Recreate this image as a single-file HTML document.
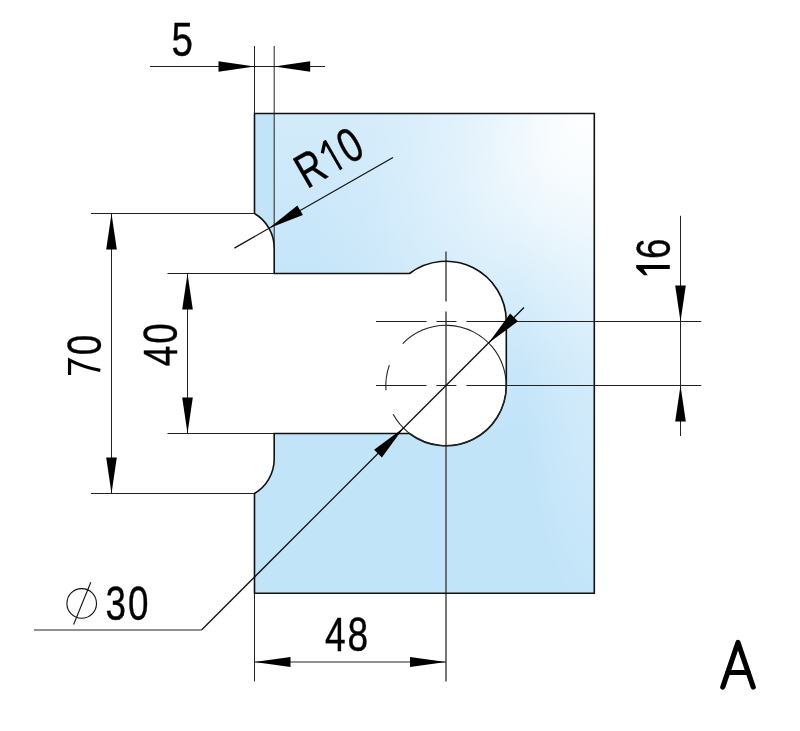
<!DOCTYPE html>
<html><head><meta charset="utf-8">
<style>
html,body{margin:0;padding:0;background:#fff;width:800px;height:731px;overflow:hidden}
svg{display:block;will-change:transform}
text{font-family:"Liberation Sans",sans-serif;fill:#000;stroke:#000;stroke-width:0.4px}
</style></head><body>
<svg width="800" height="731" viewBox="0 0 800 731">
<defs>
<radialGradient id="hl" gradientUnits="userSpaceOnUse" cx="0" cy="0" r="1" gradientTransform="translate(605 100) rotate(128) scale(400 215)">
<stop offset="0" stop-color="#fff" stop-opacity="1"/>
<stop offset="0.2" stop-color="#fff" stop-opacity="0.8"/>
<stop offset="0.5" stop-color="#fff" stop-opacity="0.38"/>
<stop offset="0.8" stop-color="#fff" stop-opacity="0.1"/>
<stop offset="1" stop-color="#fff" stop-opacity="0"/>
</radialGradient>
<radialGradient id="hl2" gradientUnits="userSpaceOnUse" cx="0" cy="0" r="1" gradientTransform="translate(610 200) rotate(92) scale(420 90)">
<stop offset="0" stop-color="#fff" stop-opacity="0.5"/>
<stop offset="0.5" stop-color="#fff" stop-opacity="0.25"/>
<stop offset="1" stop-color="#fff" stop-opacity="0"/>
</radialGradient>
<linearGradient id="top" x1="0" y1="113.5" x2="0" y2="300" gradientUnits="userSpaceOnUse">
<stop offset="0" stop-color="#fff" stop-opacity="0.28"/>
<stop offset="0.6" stop-color="#fff" stop-opacity="0.12"/>
<stop offset="1" stop-color="#fff" stop-opacity="0"/>
</linearGradient>
</defs>
<path d="M254.50,113.50 H594.3 V593.3 H254.5 V493.5 A40.0,40.0 0 0,0 274.20,459.03 V433.5 H409.50 A60.3,60.3 0 0,0 506.30,385.50 V321.5 A60.3,60.3 0 0,0 409.50,273.50 H274.2 V247.97 A40.0,40.0 0 0,0 254.50,213.50 Z" fill="#c2e4f9"/>
<path d="M254.50,113.50 H594.3 V593.3 H254.5 V493.5 A40.0,40.0 0 0,0 274.20,459.03 V433.5 H409.50 A60.3,60.3 0 0,0 506.30,385.50 V321.5 A60.3,60.3 0 0,0 409.50,273.50 H274.2 V247.97 A40.0,40.0 0 0,0 254.50,213.50 Z" fill="url(#hl2)"/>
<path d="M254.50,113.50 H594.3 V593.3 H254.5 V493.5 A40.0,40.0 0 0,0 274.20,459.03 V433.5 H409.50 A60.3,60.3 0 0,0 506.30,385.50 V321.5 A60.3,60.3 0 0,0 409.50,273.50 H274.2 V247.97 A40.0,40.0 0 0,0 254.50,213.50 Z" fill="url(#hl)"/>
<rect x="274.2" y="113.5" width="320" height="187" fill="url(#top)"/>
<path d="M446,251.4 V301.4 M446,311.4 V681.4" stroke="#4a4a4a" stroke-width="1.5" fill="none"/>
<path d="M254.50,113.50 H594.3 V593.3 H254.5 V493.5 A40.0,40.0 0 0,0 274.20,459.03 V433.5 H409.50 A60.3,60.3 0 0,0 506.30,385.50 V321.5 A60.3,60.3 0 0,0 409.50,273.50 H274.2 V247.97 A40.0,40.0 0 0,0 254.50,213.50 Z" fill="none" stroke="#111" stroke-width="1.6"/>
<path d="M402.77,343.61 A60.2,60.2 0 1,1 393.15,414.32 M385.99,390.22 A60.2,60.2 0 0,1 389.36,365.11" stroke="#222" stroke-width="1.1" fill="none"/>
<path d="M150,66.5 H325 M254.5,46 V113.5 M274.2,46 V247.97 M91,213.5 H254.5 M91,493.5 H254.5 M111.5,213.5 V493.5 M167.5,273.5 H274.2 M167.5,433.5 H274.2 M187.5,273.5 V433.5 M680.5,215.8 V436 M254.5,593.3 V681.4 M254.5,662 H446.0 M34,630 H201.50 M376,321.5 H426.5 M436.4,321.5 H456.4 M466.4,321.5 H701.3 M376,385.5 H426.5 M436.4,385.5 H456.4 M466.4,385.5 H701.3" stroke="#222" stroke-width="1" fill="none"/>
<path d="M234.40,248.10 L393,157.5 M201.50,630 L524,307.50" stroke="#111" stroke-width="1.25" fill="none"/>
<g fill="#000">
<path d="M254.50,66.50 L218.50,61.20 L218.50,71.80 Z"/>
<path d="M274.20,66.50 L310.20,71.80 L310.20,61.20 Z"/>
<path d="M268.95,228.15 L302.88,214.92 L297.38,205.39 Z"/>
<path d="M111.50,213.50 L106.20,249.50 L116.80,249.50 Z"/>
<path d="M111.50,493.50 L116.80,457.50 L106.20,457.50 Z"/>
<path d="M187.50,273.50 L182.20,309.50 L192.80,309.50 Z"/>
<path d="M187.50,433.50 L192.80,397.50 L182.20,397.50 Z"/>
<path d="M680.50,321.50 L685.80,285.50 L675.20,285.50 Z"/>
<path d="M680.50,385.50 L675.20,421.50 L685.80,421.50 Z"/>
<path d="M254.50,662.00 L290.50,667.00 L290.50,657.00 Z"/>
<path d="M446.00,662.00 L410.00,657.00 L410.00,667.00 Z"/>
<path d="M488.57,342.93 L517.91,321.37 L510.13,313.59 Z"/>
<path d="M403.43,428.07 L374.09,449.63 L381.87,457.41 Z"/>
</g>
<g stroke="#111" stroke-width="1.1" fill="none">
<circle cx="81.7" cy="603.4" r="14.8"/>
<path d="M90.8,582.2 L73.6,624.5"/>
</g>
<path d="M722.8,687 L738,642.5 L753.2,687 M727.6,672.5 H748.4" stroke="#000" stroke-width="5.2" stroke-linecap="round" stroke-linejoin="round" fill="none"/>
<!-- texts -->
<text x="0" y="0" font-size="48.3" transform="translate(171.5 56.4) scale(0.8 1)">5</text>
<text x="0" y="0" font-size="48.5" letter-spacing="2.5" transform="translate(105.5 619.9) scale(0.76 1)">30</text>
<text x="0" y="0" font-size="48.2" letter-spacing="2.3" transform="translate(325 651.2) scale(0.77 1)">48</text>
<text x="0" y="0" font-size="48.5" transform="translate(101 355.3) rotate(-90) scale(0.76 1)">0</text>
<path d="M69.55,375 L69.55,360.2 Q84,367.6 100.3,370.4" stroke="#000" stroke-width="3.2" fill="none" stroke-linejoin="miter" stroke-miterlimit="10"/>
<text x="0" y="0" font-size="48.5" letter-spacing="2.5" transform="translate(177.1 366.2) rotate(-90) scale(0.76 1)">40</text>
<text x="0" y="0" font-size="48.5" transform="translate(670 258.95) rotate(-90) scale(0.76 1)">6</text>
<path d="M636.2,265.1 L669.8,265.1 L669.8,269 L643.5,269 L647.8,275.3 L644,275.3 L636.2,268 Z" fill="#000"/>
<g transform="translate(307 189.3) rotate(-30)" style="stroke-width:0.1px">
<text x="0" y="0" font-size="48.5" transform="scale(0.76 1)">R</text>
<text x="0" y="0" font-size="48.5" transform="translate(48.9 0) scale(0.76 1)">0</text>
<path d="M38.1,-33.5 H41.1 V0 H38.1 V-28.5 L32.4,-22.3 L30.2,-24.8 Z" fill="#000"/>
</g>
</svg>
</body></html>
